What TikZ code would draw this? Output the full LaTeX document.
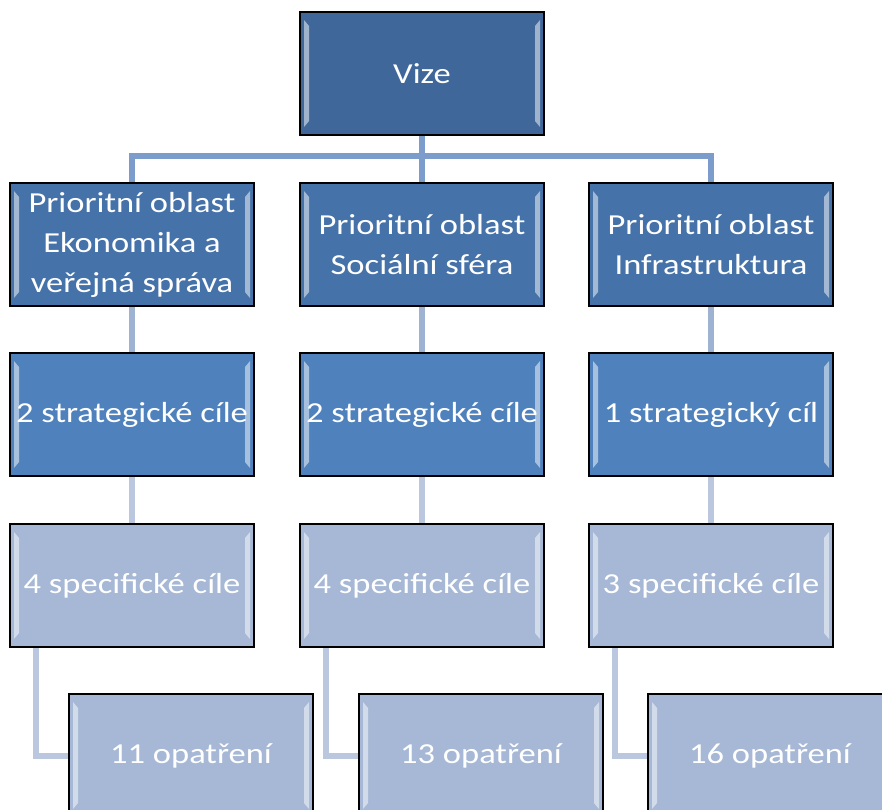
\documentclass[tikz,border=0pt]{standalone}
\usepackage{fontspec}
\setmainfont{Carlito}[FakeStretch=1.19]
\usetikzlibrary{positioning,calc}

\definecolor{vizeblue}{RGB}{63,103,153}
\definecolor{oblastblue}{RGB}{69,114,168}
\definecolor{cilblue}{RGB}{79,129,189}
\definecolor{lightblue}{RGB}{166,184,213}
\definecolor{conntop}{RGB}{124,156,203}
\definecolor{connmid}{RGB}{158,178,210}
\definecolor{connlow}{RGB}{186,199,222}

\tikzset{
  bevel/.style={path picture={
      \fill[white,opacity=.5] ($(path picture bounding box.north west)+(4,8)$) -- ++(5,6)
        -- ($(path picture bounding box.south west)+(9,-14)$) -- ++(-5,6) -- cycle;
      \fill[white,opacity=.5] ($(path picture bounding box.north east)+(-4,8)$) -- ++(-5,6)
        -- ($(path picture bounding box.south east)+(-9,-14)$) -- ++(5,6) -- cycle;
  }},
  box/.style={draw=black,line width=1.5pt,minimum width=244pt,minimum height=123pt,
    inner sep=0pt,text=white,align=center,font=\fontsize{29}{40}\selectfont,bevel},
  link/.style={line width=6pt}
}

\begin{document}
\begin{tikzpicture}[x=1pt,y=-1pt]
    \useasboundingbox (0,0) rectangle (882,809);

    % Vize
    \node[box,fill=vizeblue] (vize) at (422,73.5) {Vize};
    \coordinate (bar) at ($(vize.south)+(0,20)$);

    % tri sloupce
    \foreach \n/\x/\po/\sc/\sp/\op in {
        a/132/{Prioritní oblast\\Ekonomika a\\veřejná správa}/{2 strategické cíle}/{4 specifické cíle}/{11 opatření},
        b/422/{Prioritní oblast\\Sociální sféra}/{2 strategické cíle}/{4 specifické cíle}/{13 opatření},
        c/711/{Prioritní oblast\\Infrastruktura}/{1 strategický cíl}/{3 specifické cíle}/{16 opatření}} {
        \node[box,fill=oblastblue] (po\n) at (\x,244.5) {\po};
        \node[box,fill=cilblue,below=45.5pt of po\n] (sc\n) {\sc};
        \node[box,fill=lightblue,below=46.5pt of sc\n] (sp\n) {\sp};
        \node[box,fill=lightblue,below=45.5pt of sp\n,xshift=59pt] (op\n) {\op};

        \draw[link,connmid] (po\n.south) -- (sc\n.north);
        \draw[link,connlow] (sc\n.south) -- (sp\n.north);
        \draw[link,connlow] ([xshift=27pt]sp\n.south west) |- (op\n.west);
    }

    % spojnice z vize
    \draw[link,conntop] (vize.south) -- (pob.north);
    \draw[link,conntop] (poa.north) |- (bar) -| (poc.north);
\end{tikzpicture}
\end{document}
